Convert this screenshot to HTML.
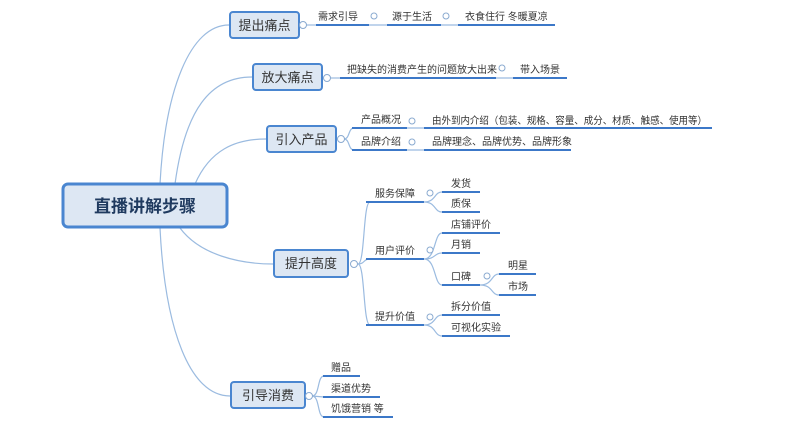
<!DOCTYPE html>
<html><head><meta charset="utf-8"><style>
html,body{margin:0;padding:0;background:#fff;}
svg{display:block;}
text{font-family:"Liberation Sans","Noto Sans CJK SC",sans-serif;fill:#333;}
.l{font-size:10px;}
.m{font-size:13px;fill:#333;}
.u{stroke:#3c78c8;stroke-width:2;}
.c{stroke:#9bbbe0;stroke-width:1.2;fill:none;}
.ci{fill:#fff;stroke:#8aaad0;stroke-width:1;}
.box{fill:#dde7f3;stroke:#4a86d0;stroke-width:2;}
</style></head><body>
<svg width="800" height="432" viewBox="0 0 800 432" xmlns="http://www.w3.org/2000/svg">
<path class="c" d="M160,184 C165,90 190,25 229,25"/>
<path class="c" d="M175,184 C185,110 210,77 252,77"/>
<path class="c" d="M195,184 C210,150 235,139 266,139"/>
<path class="c" d="M180,228 C200,255 240,264 273,264"/>
<path class="c" d="M160,228 C165,330 190,396 230,396"/>

<rect x="63" y="184" width="164" height="43" rx="5" class="box" style="stroke-width:3"/>
<text x="145" y="212" text-anchor="middle" style="font-size:17px;font-weight:bold;fill:#1f3a5f">直播讲解步骤</text>

<rect x="230" y="12" width="69" height="26" rx="3" class="box"/>
<text x="264.5" y="30" text-anchor="middle" class="m">提出痛点</text>
<rect x="253" y="64" width="69" height="26" rx="3" class="box"/>
<text x="287.5" y="82" text-anchor="middle" class="m">放大痛点</text>
<rect x="267" y="126" width="69" height="26" rx="3" class="box"/>
<text x="301.5" y="144" text-anchor="middle" class="m">引入产品</text>
<rect x="274" y="250" width="74" height="27" rx="3" class="box"/>
<text x="311" y="268" text-anchor="middle" class="m">提升高度</text>
<rect x="231" y="382" width="74" height="26" rx="3" class="box"/>
<text x="268" y="400" text-anchor="middle" class="m">引导消费</text>

<path class="c" d="M303,25 L316,25"/>
<circle class="ci" cx="303" cy="25" r="3.5"/>
<line class="u" x1="316" y1="25" x2="369" y2="25"/><text x="318" y="20" class="l">需求引导</text>
<path class="c" d="M369,25 L387,25"/><circle class="ci" cx="374" cy="16" r="3"/>
<line class="u" x1="387" y1="25" x2="441" y2="25"/><text x="392" y="20" class="l">源于生活</text>
<path class="c" d="M441,25 L458,25"/><circle class="ci" cx="446" cy="16" r="3"/>
<line class="u" x1="458" y1="25" x2="555" y2="25"/><text x="465" y="20" class="l">衣食住行  冬暖夏凉</text>

<path class="c" d="M326,78 L340,78"/><circle class="ci" cx="327" cy="78" r="3.5"/>
<line class="u" x1="340" y1="78" x2="496" y2="78"/><text x="347" y="73" class="l">把缺失的消费产生的问题放大出来</text>
<path class="c" d="M496,78 L513,78"/><circle class="ci" cx="502" cy="68" r="3"/>
<line class="u" x1="513" y1="78" x2="567" y2="78"/><text x="520" y="73" class="l">带入场景</text>

<path class="c" d="M344,139 C350,139 348,128 354,128 M344,139 C350,139 348,150 354,150"/>
<circle class="ci" cx="341" cy="139" r="3.5"/>
<line class="u" x1="352" y1="128" x2="407" y2="128"/><text x="361" y="123" class="l">产品概况</text>
<path class="c" d="M407,128 L424,128"/><circle class="ci" cx="412" cy="121" r="3"/>
<line class="u" x1="424" y1="128" x2="712" y2="128"/><text x="432" y="124" class="l" textLength="275" lengthAdjust="spacingAndGlyphs">由外到内介绍（包装、规格、容量、成分、材质、触感、使用等）</text>
<line class="u" x1="352" y1="150" x2="407" y2="150"/><text x="361" y="145" class="l">品牌介绍</text>
<path class="c" d="M407,150 L424,150"/><circle class="ci" cx="412" cy="142" r="3"/>
<line class="u" x1="424" y1="150" x2="571" y2="150"/><text x="432" y="145" class="l">品牌理念、品牌优势、品牌形象</text>

<path class="c" d="M358,264 C365,264 363,202 370,202 M358,264 C365,264 363,259 370,259 M358,264 C365,264 363,325 370,325"/>
<circle class="ci" cx="354" cy="264" r="3.5"/>
<line class="u" x1="366" y1="202" x2="424" y2="202"/><text x="375" y="197" class="l">服务保障</text>
<line class="u" x1="366" y1="259" x2="424" y2="259"/><text x="375" y="254" class="l">用户评价</text>
<line class="u" x1="366" y1="325" x2="424" y2="325"/><text x="375" y="320" class="l">提升价值</text>
<path class="c" d="M424,202 C436,202 434,192 442,192 M424,202 C436,202 434,212 442,212"/>
<circle class="ci" cx="430" cy="193" r="3"/>
<line class="u" x1="442" y1="192" x2="480" y2="192"/><text x="451" y="187" class="l">发货</text>
<line class="u" x1="442" y1="212" x2="480" y2="212"/><text x="451" y="207" class="l">质保</text>
<path class="c" d="M424,259 C436,259 434,233 442,233 M424,259 C436,259 434,253 442,253 M424,259 C436,259 434,285 442,285"/>
<circle class="ci" cx="430" cy="250" r="3"/>
<line class="u" x1="442" y1="233" x2="500" y2="233"/><text x="451" y="228" class="l">店铺评价</text>
<line class="u" x1="442" y1="253" x2="480" y2="253"/><text x="451" y="248" class="l">月销</text>
<line class="u" x1="442" y1="285" x2="480" y2="285"/><text x="451" y="280" class="l">口碑</text>
<path class="c" d="M480,285 C493,285 491,274 499,274 M480,285 C493,285 491,295 499,295"/>
<circle class="ci" cx="487" cy="276" r="3"/>
<line class="u" x1="499" y1="274" x2="536" y2="274"/><text x="508" y="269" class="l">明星</text>
<line class="u" x1="499" y1="295" x2="536" y2="295"/><text x="508" y="290" class="l">市场</text>
<path class="c" d="M424,325 C436,325 434,315 442,315 M424,325 C436,325 434,336 442,336"/>
<circle class="ci" cx="430" cy="317" r="3"/>
<line class="u" x1="442" y1="315" x2="500" y2="315"/><text x="451" y="310" class="l">拆分价值</text>
<line class="u" x1="442" y1="336" x2="510" y2="336"/><text x="451" y="331" class="l">可视化实验</text>

<path class="c" d="M312,396 C320,396 317,376 324,376 M312,396 L324,397 M312,396 C320,396 317,417 324,417"/>
<circle class="ci" cx="309" cy="396" r="3.5"/>
<line class="u" x1="323" y1="376" x2="360" y2="376"/><text x="331" y="371" class="l">赠品</text>
<line class="u" x1="323" y1="397" x2="380" y2="397"/><text x="331" y="392" class="l">渠道优势</text>
<line class="u" x1="323" y1="417" x2="393" y2="417"/><text x="331" y="412" class="l">饥饿营销 等</text>
</svg>
</body></html>
